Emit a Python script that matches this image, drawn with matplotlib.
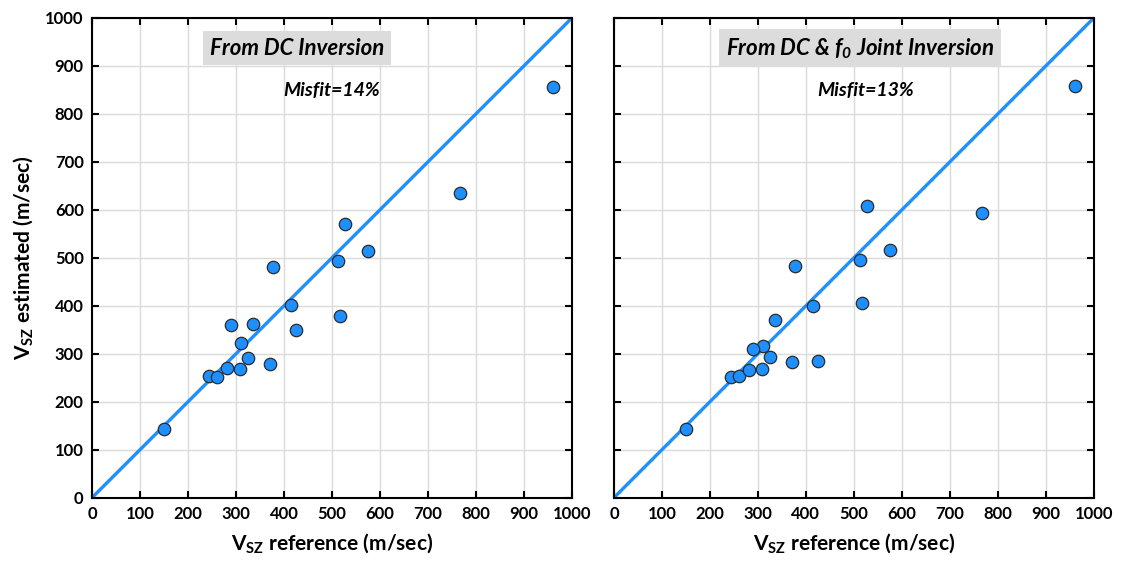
import numpy as np
import matplotlib.pyplot as plt

# -----------------------------
# Data
# -----------------------------
vs_reference = [151, 244, 260, 282, 308, 326, 310, 289, 335, 371, 378, 415, 426, 512, 517, 527, 576, 767, 961]
vs_dc = [144, 254, 251, 270, 268, 291, 322, 359, 362, 278, 481, 401, 350, 494, 379, 571, 515, 635, 856]
vs_joint = [144, 252, 253, 267, 269, 293, 317, 309, 370, 283, 484, 399, 284, 495, 405, 608, 517, 593, 858]

titles = ["From DC Inversion", r"From DC & $\mathbfit{f}_{\mathbfit{0}}$ Joint Inversion"]
misfits = ["Misfit=14%", "Misfit=13%"]
ticks = list(range(0, 1001, 100))

plt.rcParams['font.family'] = ['Lato', 'DejaVu Sans']
plt.rcParams['mathtext.fontset'] = 'custom'
plt.rcParams['mathtext.rm'] = 'Lato:bold'
plt.rcParams['mathtext.bf'] = 'Lato:bold'
plt.rcParams['mathtext.it'] = 'Lato:italic:bold'
plt.rcParams['mathtext.bfit'] = 'Lato:italic:bold'

fig = plt.figure(figsize=(11.21, 5.66), dpi=100)
ax1 = fig.add_axes([0.0821, 0.1207, 0.428, 0.8475])
ax2 = fig.add_axes([0.5477, 0.1207, 0.428, 0.8475])

blue = '#1e8fff'

for i, (ax, est) in enumerate(zip([ax1, ax2], [vs_dc, vs_joint])):
    ax.set_xlim(0, 1000)
    ax.set_ylim(0, 1000)
    ax.plot([0, 1000], [0, 1000], color=blue, lw=2.4, zorder=2)
    ax.scatter(vs_reference, est, s=80, color=blue, edgecolor='#2b2b2b',
               linewidth=0.9, zorder=3)
    ax.set_xticks(ticks)
    ax.set_yticks(ticks)
    ax.grid(True, color='#dadada', lw=1.0)
    ax.set_axisbelow(True)
    ax.tick_params(direction='in', length=5, width=1.5, top=True, right=True,
                   labelsize=12, pad=6)
    for lab in ax.get_xticklabels() + ax.get_yticklabels():
        lab.set_fontweight('bold')
    for sp in ax.spines.values():
        sp.set_linewidth(1.5)
    ax.set_xlabel(r"V$_{\mathbf{SZ}}$ reference (m/sec)", fontsize=15,
                  fontweight='bold', labelpad=7)

    tx = 427 if i == 0 else 513
    ax.text(tx, 937, titles[i], fontsize=16, fontweight='bold', style='italic',
            ha='center', va='center', zorder=4,
            bbox=dict(facecolor='#dcdcdc', edgecolor='none', boxstyle='square,pad=0.3'))
    mx = 500 if i == 0 else 524
    ax.text(mx, 848, misfits[i], fontsize=14, fontweight='bold', style='italic',
            ha='center', va='center', zorder=4)

ax1.set_ylabel(r"V$_{\mathbf{SZ}}$ estimated (m/sec)", fontsize=15,
               fontweight='bold', labelpad=7)
ax2.tick_params(labelleft=False)

fig.savefig('out.png', dpi=100)
